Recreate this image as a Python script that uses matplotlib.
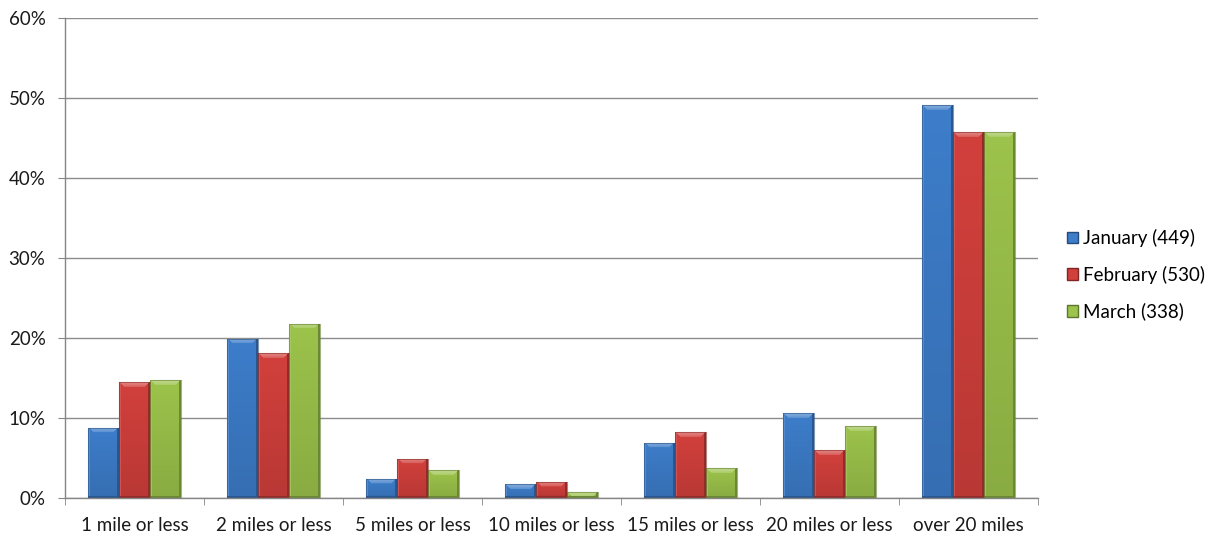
import matplotlib.pyplot as plt
import numpy as np
from matplotlib.patches import Patch
from matplotlib.ticker import PercentFormatter

categories = ["1 mile or less", "2 miles or less", "5 miles or less", "10 miles or less",
              "15 miles or less", "20 miles or less", "over 20 miles"]
january = [8.8, 19.9, 2.4, 1.75, 6.9, 10.6, 49.1]
february = [14.45, 18.1, 4.9, 2.05, 8.25, 6.0, 45.7]
march = [14.7, 21.8, 3.5, 0.75, 3.75, 9.0, 45.7]
series_names = ["January (449)", "February (530)", "March (338)"]
colors = ["#3d7dca", "#d2403c", "#9cc34b"]

plt.rcParams["font.family"] = ["Lato", "DejaVu Sans"]

fig = plt.figure(figsize=(12.21, 5.39), dpi=100)
ax = fig.add_axes([65 / 1221, 41 / 539, 973 / 1221, 480 / 539])

x = np.arange(len(categories))
width = 0.223
px_per_unit = 8.0  # pixels per percentage point


def shade(rgb, f):
    rgb = np.asarray(rgb)
    if f >= 0:
        return rgb + (1 - rgb) * f
    return rgb * (1 + f)


def bevel_bar(ax, x0, w, h, color):
    base = np.array(plt.matplotlib.colors.to_rgb(color))
    nrow = max(int(round(h * px_per_unit)), 1)
    ncol = 31
    img = np.zeros((nrow, ncol, 3))
    bev = 6
    for r in range(nrow):
        # darker toward the bottom
        vf = -0.12 * (r / max(nrow - 1, 1))
        for c in range(ncol):
            f = vf
            if c < 2:
                f = 0.12
            elif c >= ncol - 2:
                f = -0.3
            # light top bevel with slanted ends
            if r < bev - 1 and min(c, ncol - 1 - c) > r:
                f = 0.38 - 0.05 * r
            if r >= nrow - 2:
                f = -0.3
            img[r, c] = np.clip(shade(base, f), 0, 1)
    patch = ax.bar(x0, h, w, align="edge", color=color, edgecolor="none", zorder=3)[0]
    im = ax.imshow(img, extent=(x0, x0 + w, 0, h), aspect="auto", zorder=4,
                   interpolation="bilinear", origin="upper")
    im.set_clip_path(patch)
    ax.plot([x0, x0, x0 + w, x0 + w], [0, h, h, 0], color=shade(base, -0.35),
            lw=0.8, zorder=5, alpha=0.6)


for i, (vals, col) in enumerate(zip([january, february, march], colors)):
    for xi, v in zip(x, vals):
        bevel_bar(ax, xi - 1.5 * width + i * width, width, v, col)

ax.set_xlim(-0.5, len(categories) - 0.5)
ax.set_ylim(0, 60)
ax.set_yticks(np.arange(0, 61, 10))
ax.yaxis.set_major_formatter(PercentFormatter(decimals=0))
ax.set_xticks(x)
ax.set_xticklabels(categories)
ax.set_xticks(np.arange(-0.5, len(categories), 1), minor=True)
ax.tick_params(axis="x", which="major", length=0, pad=14, labelsize=13.5, labelcolor="#1a1a1a")
ax.tick_params(axis="x", which="minor", length=5, color="#868686", direction="out")
ax.tick_params(axis="y", length=5, color="#868686", pad=9, labelsize=13.5, labelcolor="#1a1a1a")
ax.grid(axis="y", color="#8c8c8c", lw=1, zorder=0)
ax.set_axisbelow(True)
for s in ["top", "right"]:
    ax.spines[s].set_visible(False)
for s in ["left", "bottom"]:
    ax.spines[s].set_color("#868686")
    ax.spines[s].set_linewidth(1)
    ax.spines[s].set_zorder(6)

handles = [Patch(facecolor=c, edgecolor=shade(plt.matplotlib.colors.to_rgb(c), -0.4)) for c in colors]
ax.legend(handles, series_names, loc="center left", bbox_to_anchor=(1.022, 0.465),
          frameon=False, fontsize=13.5, handlelength=0.6, handleheight=0.6,
          handletextpad=0.25, labelspacing=1.0, borderaxespad=0)

fig.savefig("out.png", dpi=100, facecolor="white")
